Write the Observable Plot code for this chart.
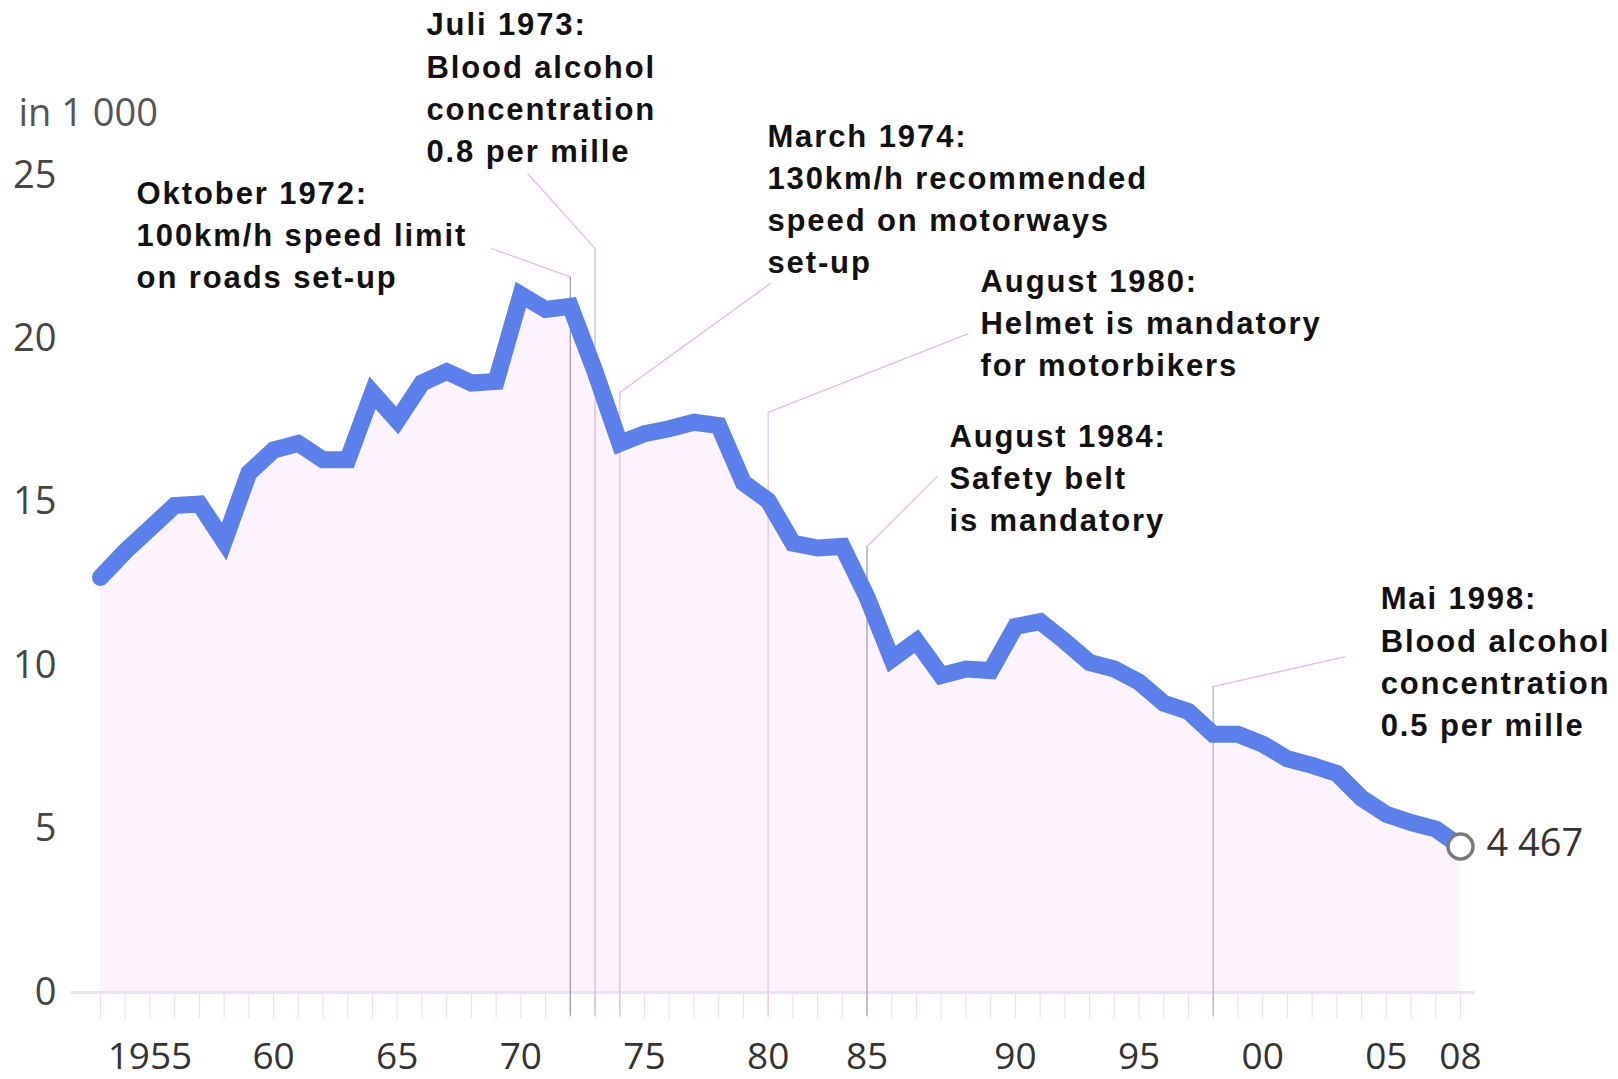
<!DOCTYPE html>
<html>
<head>
<meta charset="utf-8">
<script src="https://cdn.jsdelivr.net/npm/d3@7"></script>
<script src="https://cdn.jsdelivr.net/npm/@observablehq/plot@0.6"></script>
<style>
  html, body { margin: 0; padding: 0; background: #ffffff; }
  #chart { width: 1618px; height: 1079px; overflow: hidden; }
</style>
</head>
<body>
<div id="chart"></div>
<script>
// ---- data (road deaths, in 1 000) ----
const years = [1953,1954,1955,1956,1957,1958,1959,1960,1961,1962,
               1963,1964,1965,1966,1967,1968,1969,1970,1971,1972,
               1973,1974,1975,1976,1977,1978,1979,1980,1981,1982,
               1983,1984,1985,1986,1987,1988,1989,1990,1991,1992,
               1993,1994,1995,1996,1997,1998,1999,2000,2001,2002,
               2003,2004,2005,2006,2007,2008];
const deaths = [12.7,13.5,14.2,14.9,14.95,13.8,15.9,16.6,16.8,16.3,
                16.3,18.35,17.5,18.65,19.0,18.65,18.7,21.35,20.9,21.0,
                19.0,16.8,17.1,17.25,17.45,17.35,15.6,15.05,13.75,13.6,
                13.65,12.1,10.2,10.75,9.7,9.9,9.85,11.2,11.35,10.75,
                10.1,9.9,9.5,8.85,8.6,7.9,7.9,7.6,7.15,6.95,
                6.7,5.95,5.45,5.2,5.0,4.467];
const lastLabel = "4 467";

const yTicks = [0, 5, 10, 15, 20, 25];
const xTickYears = [1955, 1960, 1965, 1970, 1975, 1980, 1984, 1990, 1995, 2000, 2005, 2008];
const xTickLabels = ["1955", "60", "65", "70", "75", "80", "85", "90", "95", "00", "05", "08"];

const eventYears = [1972, 1973, 1974, 1980, 1984, 1998];
const eventLabels = [
  "Oktober 1972:\n100km/h speed limit\non roads set-up",
  "Juli 1973:\nBlood alcohol\nconcentration\n0.8 per mille",
  "March 1974:\n130km/h recommended\nspeed on motorways\nset-up",
  "August 1980:\nHelmet is mandatory\nfor motorbikers",
  "August 1984:\nSafety belt\nis mandatory",
  "Mai 1998:\nBlood alcohol\nconcentration\n0.5 per mille"
];

// ---- annotation layout (in data units) ----
const elbowY   = [21.9, 22.77, 18.36, 17.75, 13.65, 9.36];
const leadEndX = [1968.8, 1970.27, 1980.1, 1988.1, 1986.85, 2003.35];
const leadEndY = [22.77, 25.06, 21.7, 20.16, 15.8, 10.28];
const labelX   = [1954.46, 1966.18, 1979.97, 1988.59, 1987.33, 2004.77];
const labelY   = [25.04, 30.2, 26.8, 22.35, 17.62, 12.64];
const vertColor = ["#a49bb0", "#dcb6e4", "#e2bde8", "#e6c6ec", "#a9a0b4", "#c7a9cf"];

// ---- build tables ----
const series = years.map((y, i) => ({year: y, value: deaths[i]}));
const events = eventYears.map((y, i) => ({
  year: y, label: eventLabels[i], elbow: elbowY[i],
  ex: leadEndX[i], ey: leadEndY[i], lx: labelX[i], ly: labelY[i], vc: vertColor[i]
}));
const last = series[series.length - 1];
const tickMap = new Map(xTickYears.map((y, i) => [y, xTickLabels[i]]));

const annoFont = "'Liberation Sans', Arial, sans-serif";

const plot = Plot.plot({
  width: 1618,
  height: 1079,
  marginLeft: 100,
  marginRight: 158,
  marginTop: 175,
  marginBottom: 87,
  style: {fontFamily: "'Open Sans', sans-serif", background: "#ffffff", overflow: "visible"},
  x: {domain: [1953, 2008], axis: null},
  y: {domain: [0, 25], axis: null},
  marks: [
    Plot.areaY(series, {x: "year", y: "value", fill: "#fdf3fd", curve: "linear"}),
    // minor year ticks below baseline
    Plot.ruleX(years, {x: d => d, y1: 0, y2: -0.8, stroke: "#eddff2", strokeWidth: 1.2}),
    // baseline
    Plot.ruleY([0], {x1: 1951.8, x2: 2008.6, stroke: "#eee0f3", strokeWidth: 3}),
    // leader lines
    Plot.ruleX(events, {x: "year", y1: -0.72, y2: "elbow", stroke: "vc", strokeWidth: 1.3}),
    Plot.link(events, {x1: "year", y1: "elbow", x2: "ex", y2: "ey", stroke: "#e7b9ec", strokeWidth: 1.3}),
    // y axis
    Plot.axisY({ticks: yTicks, tickSize: 0, tickPadding: 44, fontSize: 38, label: null, color: "#454545", anchor: "left"}),
    // x axis labels
    Plot.axisX({ticks: xTickYears, tickFormat: d => tickMap.get(d), tickSize: 0, tickPadding: 50, fontSize: 37, label: null, color: "#333333", anchor: "bottom"}),
    // main line
    Plot.lineY(series, {x: "year", y: "value", stroke: "#5b80eb", strokeWidth: 17, strokeLinejoin: "miter", strokeMiterlimit: 3, curve: "linear"}),
    // end dot + label
    Plot.dot([last], {x: "year", y: "value", r: 12.5, fill: "#ffffff", stroke: "#7a7a7a", strokeWidth: 3.5}),
    Plot.text([last], {x: "year", y: "value", text: () => lastLabel, textAnchor: "start", dx: 26, dy: -3, fontSize: 38, fill: "#333333", lineAnchor: "middle"}),
    // unit label
    Plot.text(["in 1 000"], {frameAnchor: "top-left", text: d => d, dx: -82, dy: -62, textAnchor: "start", lineAnchor: "middle", fontSize: 38, fill: "#555555"}),
    // annotations
    Plot.text(events, {x: "lx", y: "ly", text: "label", textAnchor: "start", lineAnchor: "top",
      lineHeight: 1.36, fontSize: 31, fontWeight: "bold", fontFamily: annoFont, fill: "#111111"})
  ]
});

document.getElementById("chart").appendChild(plot);
plot.querySelectorAll('g[font-weight="bold"]').forEach(g => {
  g.setAttribute("letter-spacing", "1.9px");
  g.querySelectorAll("text").forEach(t => t.setAttribute("letter-spacing", "1.9px"));
});
</script>
</body>
</html>
